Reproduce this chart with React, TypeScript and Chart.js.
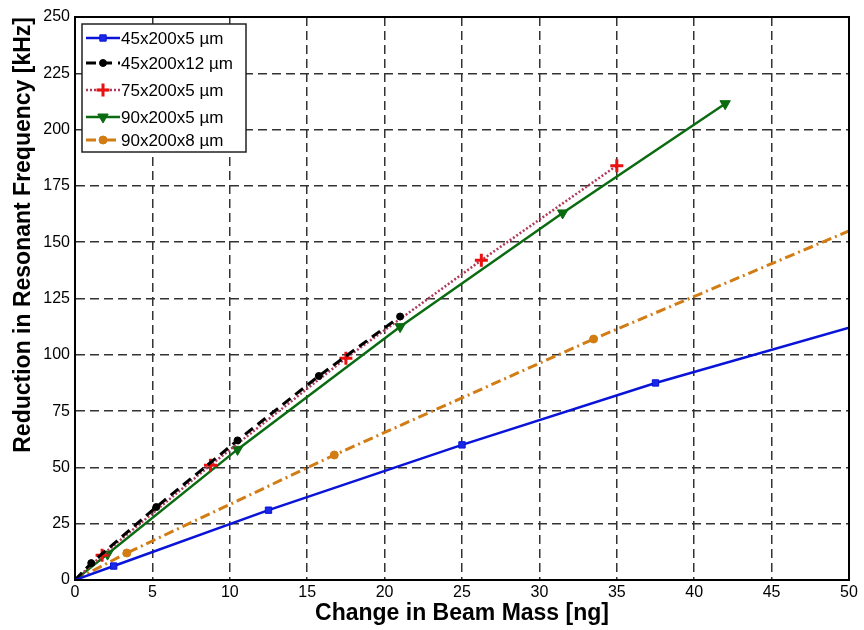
import React, { useEffect, useRef } from "react";
import { Chart, registerables } from "chart.js";
import { drawPoint } from "chart.js/helpers";

Chart.register(...registerables);

const xTicks = [0, 5, 10, 15, 20, 25, 30, 35, 40, 45, 50];
const yTicks = [0, 25, 50, 75, 100, 125, 150, 175, 200, 225, 250];

const labels = ["45x200x5 µm", "45x200x12 µm", "75x200x5 µm", "90x200x5 µm", "90x200x8 µm"];

const massA = [0, 2.5, 12.5, 25, 37.5, 50];
const freqA = [0, 6.2, 31, 60, 87.5, 112];

const massB = [0, 1.05, 5.25, 10.5, 15.75, 21];
const freqB = [0, 7.5, 32.4, 62, 90.6, 117];

const massC = [0, 1.75, 8.75, 17.5, 26.25, 35];
const freqC = [0, 11, 51, 98.5, 142, 184];

const massD = [0, 2.1, 10.5, 21, 31.5, 42];
const freqD = [0, 11.5, 58, 112.5, 163, 211.5];

const massE = [0, 3.35, 16.75, 33.5, 50];
const freqE = [0, 12, 55.5, 107, 155];

const FONT = "'Liberation Sans', Arial, sans-serif";

const pts = (xs: number[], ys: number[]) => xs.map((x, i) => ({ x, y: ys[i] }));

const legendPlugin = {
  id: "insideLegend",
  afterDraw(chart: any) {
    const ctx = chart.ctx;
    const area = chart.chartArea;
    const x0 = area.left + 7;
    const y0 = area.top + 7;
    const w = 164;
    const h = 128;
    ctx.save();
    ctx.fillStyle = "#ffffff";
    ctx.fillRect(x0, y0, w, h);
    ctx.strokeStyle = "#222";
    ctx.lineWidth = 1.5;
    ctx.strokeRect(x0, y0, w, h);
    const rows = [14, 39, 66, 93, 116];
    chart.data.datasets.forEach((ds: any, i: number) => {
      const y = y0 + rows[i];
      ctx.save();
      ctx.strokeStyle = ds.borderColor;
      ctx.lineWidth = ds.borderWidth;
      ctx.setLineDash(ds.borderDash || []);
      ctx.beginPath();
      ctx.moveTo(x0 + 4, y);
      ctx.lineTo(x0 + 38, y);
      ctx.stroke();
      ctx.setLineDash([]);
      ctx.fillStyle = ds.pointBackgroundColor;
      ctx.strokeStyle = ds.pointBorderColor;
      ctx.lineWidth = ds.pointBorderWidth;
      const r = Array.isArray(ds.pointRadius) ? ds.pointRadius[1] : ds.pointRadius;
      drawPoint(ctx, { pointStyle: ds.pointStyle, rotation: ds.pointRotation || 0, radius: r, borderWidth: ds.pointBorderWidth }, x0 + 21, y);
      ctx.restore();
      ctx.fillStyle = "#000";
      ctx.font = "17px " + FONT;
      ctx.textBaseline = "middle";
      ctx.textAlign = "left";
      ctx.fillText(ds.label, x0 + 39, y + 1);
    });
    ctx.restore();
  },
};

export default function App() {
  const ref = useRef<HTMLCanvasElement>(null);
  useEffect(() => {
    document.body.style.margin = "0";
    const chart = new Chart(ref.current as HTMLCanvasElement, {
      type: "line",
      data: {
        datasets: [
          {
            label: labels[0],
            data: pts(massA, freqA),
            borderColor: "#0a14d8",
            backgroundColor: "#0a14d8",
            borderWidth: 2.5,
            pointStyle: "rect",
            pointRadius: [0, 4.5, 4.5, 4.5, 4.5, 0],
            pointBackgroundColor: "#1a28e8",
            pointBorderColor: "#0a14d8",
            pointBorderWidth: 1,
          },
          {
            label: labels[1],
            data: pts(massB, freqB),
            borderColor: "#000000",
            backgroundColor: "#000000",
            borderWidth: 3,
            borderDash: [10, 6],
            pointStyle: "circle",
            pointRadius: [0, 3.5, 3.5, 3.5, 3.5, 3.5],
            pointBackgroundColor: "#000000",
            pointBorderColor: "#000000",
            pointBorderWidth: 1,
          },
          {
            label: labels[2],
            data: pts(massC, freqC),
            borderColor: "#b03a5a",
            backgroundColor: "#e01010",
            borderWidth: 2.5,
            borderDash: [2, 2],
            pointStyle: "cross",
            pointRadius: [0, 6.5, 6.5, 6.5, 6.5, 6.5],
            pointBackgroundColor: "#e01010",
            pointBorderColor: "#e81010",
            pointBorderWidth: 3,
          },
          {
            label: labels[3],
            data: pts(massD, freqD),
            borderColor: "#0b6b10",
            backgroundColor: "#0b6b10",
            borderWidth: 2.5,
            pointStyle: "triangle",
            pointRotation: 180,
            pointRadius: [0, 6, 6, 6, 6, 6],
            pointBackgroundColor: "#0b6b10",
            pointBorderColor: "#0b6b10",
            pointBorderWidth: 1,
          },
          {
            label: labels[4],
            data: pts(massE, freqE),
            borderColor: "#d27c14",
            backgroundColor: "#d27c14",
            borderWidth: 3,
            borderDash: [10, 4, 2, 4],
            pointStyle: "circle",
            pointRadius: [0, 4, 4, 4, 0],
            pointBackgroundColor: "#d27c14",
            pointBorderColor: "#d27c14",
            pointBorderWidth: 1,
          },
        ] as any,
      },
      options: {
        animation: false,
        responsive: false,
        maintainAspectRatio: false,
        layout: { padding: { top: 17, right: 15, left: 0, bottom: 0 } },
        plugins: { legend: { display: false }, tooltip: { enabled: false } },
        elements: { line: { tension: 0 } },
        scales: {
          x: {
            type: "linear",
            min: xTicks[0],
            max: xTicks[xTicks.length - 1],
            afterBuildTicks: (s: any) => { s.ticks = xTicks.map((v) => ({ value: v })); },
            afterFit: (s: any) => { s.height = 50; },
            grid: { color: "#333", lineWidth: 1.5, drawTicks: false },
            border: { display: true, color: "#000", width: 2, dash: [9, 5] },
            ticks: { color: "#000", font: { family: FONT, size: 16 }, padding: 3, maxRotation: 0 },
            title: {
              display: true,
              text: "Change in Beam Mass [ng]",
              color: "#000",
              font: { family: FONT, size: 23, weight: "bold" },
              padding: { top: 0, bottom: 3 },
            },
          },
          y: {
            type: "linear",
            min: yTicks[0],
            max: yTicks[yTicks.length - 1],
            afterBuildTicks: (s: any) => { s.ticks = yTicks.map((v) => ({ value: v })); },
            afterFit: (s: any) => { s.width = 75; },
            grid: { color: "#333", lineWidth: 1.5, drawTicks: false },
            border: { display: true, color: "#000", width: 2, dash: [9, 5] },
            ticks: { color: "#000", font: { family: FONT, size: 16 }, padding: 5 },
            title: {
              display: true,
              text: "Reduction in Resonant Frequency [kHz]",
              color: "#000",
              align: "end",
              font: { family: FONT, size: 23, weight: "bold" },
              padding: { top: 10, bottom: 0 },
            },
          },
        },
      },
      plugins: [
        {
          id: "frame",
          afterDatasetsDraw(chart: any) {
            const { left, right, top, bottom } = chart.chartArea;
            const ctx = chart.ctx;
            ctx.save();
            ctx.strokeStyle = "#000";
            ctx.lineWidth = 2;
            ctx.strokeRect(left, top, right - left, bottom - top);
            ctx.restore();
          },
        },
        legendPlugin,
      ],
    } as any);
    return () => chart.destroy();
  }, []);
  return <canvas ref={ref} width={864} height={630} style={{ display: "block" }} />;
}
